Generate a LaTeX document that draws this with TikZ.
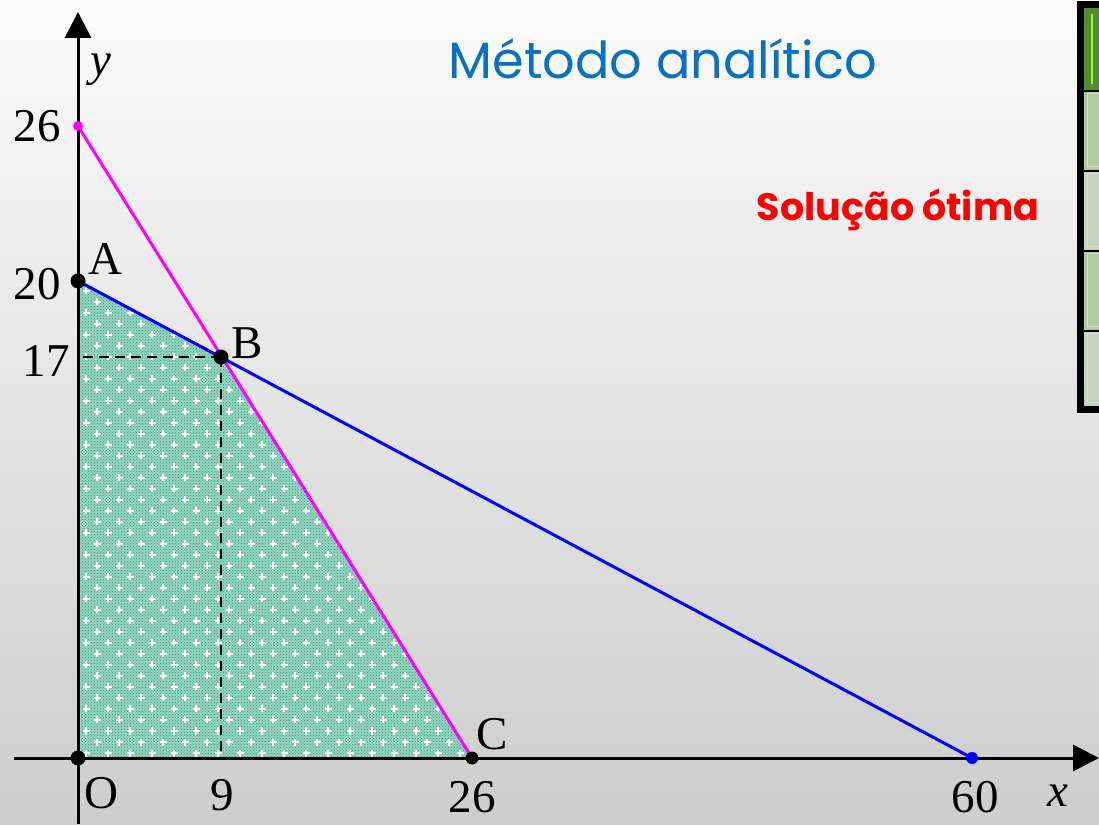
\documentclass[tikz,border=0pt]{standalone}
\usepackage{fontspec}
\setmainfont{Liberation Serif}
\newfontfamily\titlefont{Poppins}
\usetikzlibrary{arrows.meta,patterns}
\definecolor{bgtop}{RGB}{251,251,251}
\definecolor{bgbot}{RGB}{205,205,205}
\definecolor{regiao}{RGB}{150,212,192}
\definecolor{regiaodot}{RGB}{52,158,128}
\definecolor{titulo}{RGB}{10,112,192}
\definecolor{reta1}{RGB}{0,0,255}
\definecolor{reta2}{RGB}{255,0,255}
\definecolor{verdeesc}{RGB}{86,138,48}
\definecolor{verdecl}{RGB}{176,202,158}
\definecolor{verdecinza}{RGB}{198,211,190}

\tikzset{
  eixo/.style={line width=3pt, -{Triangle[width=26pt,length=26pt]}},
  ponto/.style={circle, fill=black, inner sep=0pt, minimum size=15pt},
  rotulo/.style={inner sep=0pt, font=\fontsize{47}{50}\selectfont},
  guia/.style={line width=2.8pt, dash pattern=on 10pt off 6pt},
  reta/.style={line width=3pt},
  marca/.style={white, line width=1.8pt},
  celula/.style={draw=white!85!black, line width=1pt},
}

\begin{document}
\begin{tikzpicture}[x=1pt,y=1pt]
\shade[top color=bgtop, bottom color=bgbot] (0,0) rectangle (1099,824);
\useasboundingbox (0,0) rectangle (1099,824);

% pontos do grafico
\coordinate (O) at (78,66);
\coordinate (A) at (78,543);
\coordinate (B) at (221,467);
\coordinate (C) at (472,66);
\coordinate (Y26) at (78,698);
\coordinate (X60) at (972,66);
\coordinate (Y17) at (78,467);
\coordinate (X9) at (221,66);
\coordinate (xini) at (14,66);
\coordinate (xfim) at (1099,66);
\coordinate (yini) at (78,0);
\coordinate (yfim) at (78,812);

% regiao viavel
\fill[regiao] (O) -- (A) -- (B) -- (C) -- cycle;
\fill[pattern=crosshatch dots, pattern color=regiaodot] (O) -- (A) -- (B) -- (C) -- cycle;
\begin{scope}
  \clip (O) -- (A) -- (B) -- (C) -- cycle;
  \foreach \i in {0,...,43}{
    \pgfmathsetmacro{\dx}{mod(\i,2)*11}
    \foreach \j in {0,...,18}
      \draw[marca] ({86+\dx+22*\j-3.5},{71+11*\i}) -- ++(7,0)
                   ({86+\dx+22*\j},{71+11*\i-3.5}) -- ++(0,7);
  }
\end{scope}

\draw[guia] (B) -- (Y17);
\draw[guia] (B) -- (X9);

\draw[reta, reta1] (A) -- (X60);
\draw[reta, reta2] (Y26) -- (C);

\draw[eixo] (xini) -- (xfim);
\draw[eixo] (yini) -- (yfim);

\node[ponto] (pO) at (O) {};
\node[ponto] (pA) at (A) {};
\node[ponto] (pB) at (B) {};
\node[ponto, minimum size=13pt] (pC) at (C) {};
\node[ponto, fill=reta2, minimum size=10pt] (p26) at (Y26) {};
\node[ponto, fill=reta1, minimum size=12pt] (p60) at (X60) {};

\node[rotulo] (ly) at (101,754) {\textit{y}};
\node[rotulo] (lx) at (1058,28) {\textit{x}};
\node[rotulo] (l26y) at (37,698) {26};
\node[rotulo] (l20) at (37,540) {20};
\node[rotulo] (l17) at (46,463) {17};
\node[rotulo] (lA) at (105,565) {A};
\node[rotulo] (lB) at (247,481) {B};
\node[rotulo] (lC) at (492,90) {C};
\node[rotulo] (lO) at (101,31) {O};
\node[rotulo] (l9) at (222,29) {9};
\node[rotulo] (l26x) at (472,27) {26};
\node[rotulo] (l60) at (975,27) {60};

\node[text=titulo, font=\titlefont\fontsize{51}{56}\selectfont] (titulo) at (663,765) {Método analítico};
\node[text=red, font=\titlefont\bfseries\fontsize{38}{42}\selectfont] (solucao) at (898,614) {Solução ótima};

% painel lateral
\fill[black] (1077,411) rectangle (1099,823);
\fill[verdeesc] (1084,734) rectangle (1099,816);
\fill[verdecl] (1084,654) rectangle (1099,732);
\fill[verdecinza] (1084,574) rectangle (1099,652);
\fill[verdecl] (1084,494) rectangle (1099,572);
\fill[verdecinza] (1084,418) rectangle (1099,492);
\draw[line width=2pt, green!60!yellow!80!white] (1092,740) -- (1092,810);
\foreach \a/\b in {654/732,574/652,494/572,418/492}
  \draw[celula] (1099,\b-2) -- (1087,\b-2) -- (1087,\a+3) -- (1099,\a+3);
\end{tikzpicture}
\end{document}
